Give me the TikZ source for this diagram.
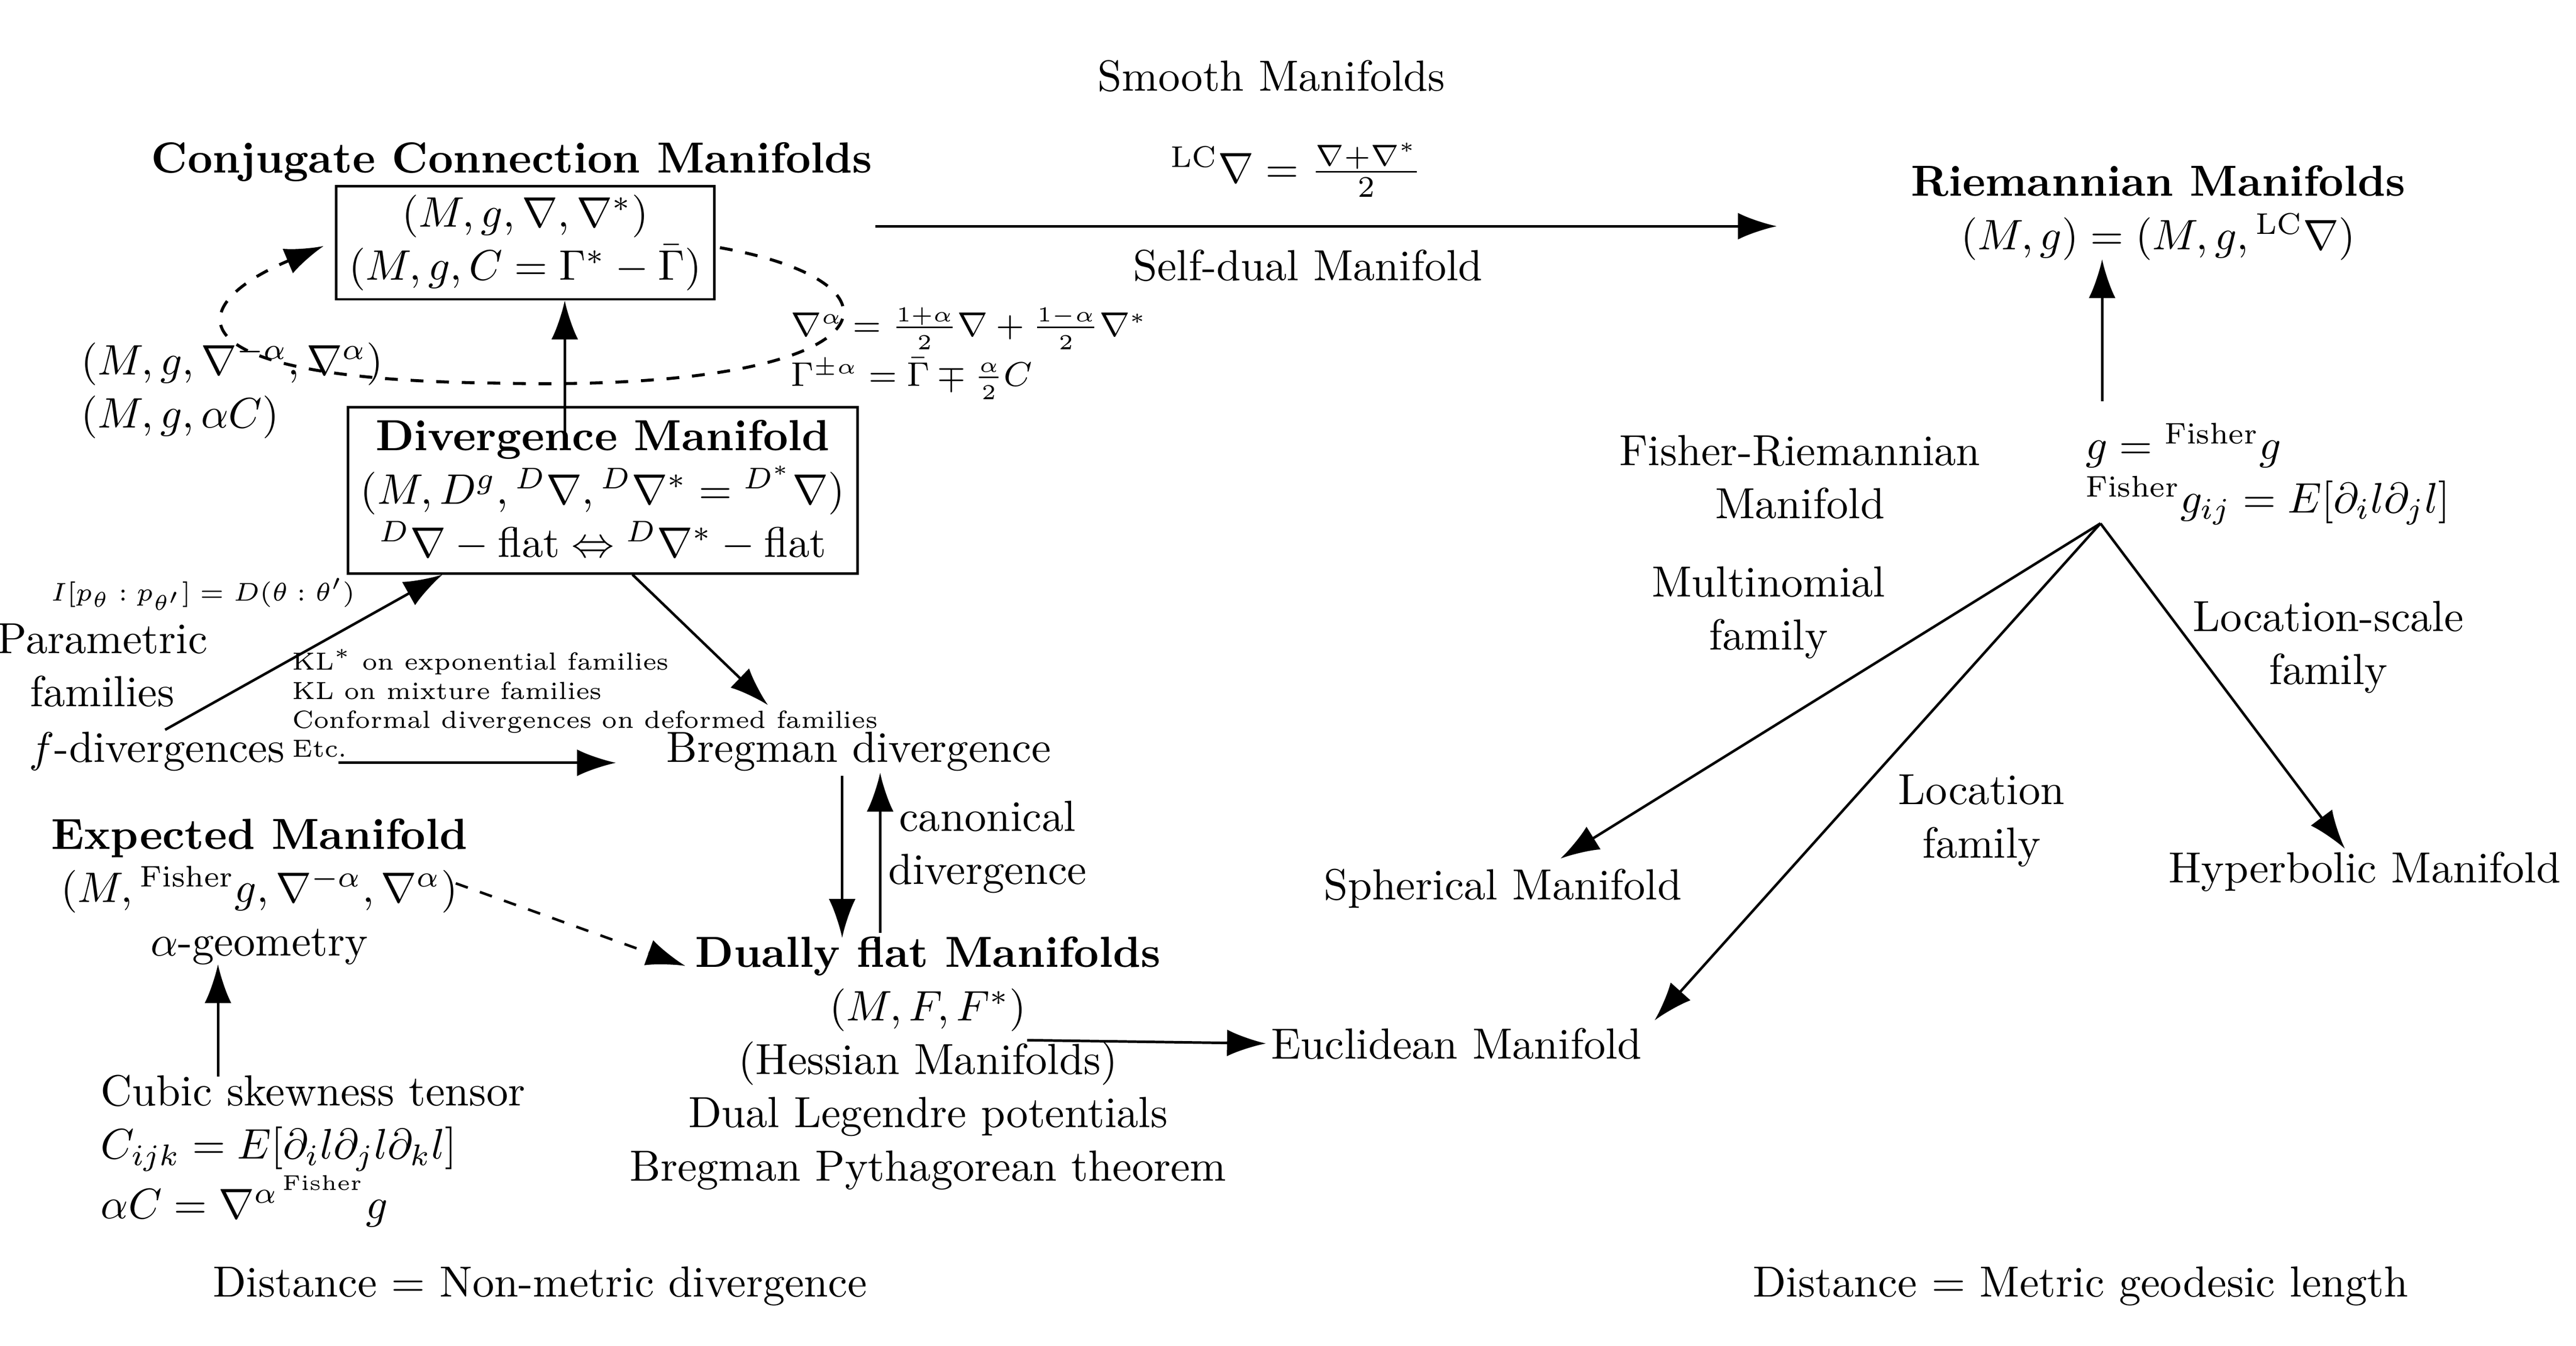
\documentclass[tikz,border=0pt]{standalone}
\usepackage{amsmath,amssymb}
\usetikzlibrary{arrows.meta}
\begin{document}
\begin{tikzpicture}[x=0.0136cm,y=-0.0136cm,
  every node/.style={inner sep=1pt,font=\fontsize{10.2}{12.5}\selectfont},
  arr/.style={-{Latex[length=3.2mm,width=2.2mm]},line width=0.6pt},
  box/.style={draw,line width=0.6pt,align=center,inner sep=2pt},
  lab/.style={align=center},
  tit/.style={font=\fontsize{10.2}{12.5}\selectfont\bfseries},
  sm/.style={font=\fontsize{7.8}{8.8}\selectfont,align=left},
  tn/.style={font=\fontsize{5.8}{6.8}\selectfont,align=left}]
\useasboundingbox (0,0) rectangle (1560,815);
\node (smooth) at (770,46) {Smooth Manifolds};
% conjugate
\node[tit] (conjt) at (310,98) {Conjugate Connection Manifolds};
\node[box,inner xsep=3pt] (conj) at (318,147) {$(M,g,\nabla,\nabla^*)$\\$(M,g,C=\Gamma^*-\bar\Gamma)$};
\coordinate (e1) at (436,150);
\coordinate (e2) at (300,232);
\coordinate (e3) at (196,149);
\draw[arr,dashed,line width=0.7pt] (e1) .. controls (560,172) and (540,238) .. (e2) .. controls (100,230) and (110,185) .. (e3);
\node[lab,align=left,anchor=west] (alpha) at (46,236) {$(M,g,\nabla^{-\alpha},\nabla^{\alpha})$\\$(M,g,\alpha C)$};
\node[sm,anchor=west] (form) at (476,214) {$\nabla^{\alpha}=\frac{1+\alpha}{2}\nabla+\frac{1-\alpha}{2}\nabla^*$\\[1pt]$\Gamma^{\pm\alpha}=\bar\Gamma\mp\frac{\alpha}{2}C$};
% divergence
\node[box,inner sep=3pt] (div) at (365,297) {\textbf{Divergence Manifold}\\$(M,D^g,{}^D\nabla,{}^D\nabla^*={}^{D^*}\nabla)$\\${}^D\nabla-\mathrm{flat}\Leftrightarrow{}^D\nabla^*-\mathrm{flat}$};
\coordinate (dt) at (342,268);
\draw[arr] (dt) -- (conj.south -| dt);
\node[tn] (ip) at (123,360) {$I[p_\theta:p_{\theta'}]=D(\theta:\theta')$};
\node[lab] (param) at (62,403) {Parametric\\families};
\node (fdiv) at (95,455) {$f$-divergences};
\node[tn] (kl) at (174,426) [anchor=west] {KL$^*$ on exponential families\\KL on mixture families\\Conformal divergences on deformed families\\Etc.};
\coordinate (f1) at (100,442);
\coordinate (d1) at (268,348);
\draw[arr] (f1) -- (d1);
\node (breg) at (520,455) {Bregman divergence};
\coordinate (f2) at (205,462);
\draw[arr] (f2) -- (373,462);
\coordinate (d2) at (383,348);
\draw[arr] (d2) -- (465,427);
% dually flat
\node[lab] (dfl) at (562,644) {\textbf{Dually flat Manifolds}\\$(M,F,F^*)$\\(Hessian Manifolds)\\Dual Legendre potentials\\Bregman Pythagorean theorem};
\coordinate (b1) at (510,470);
\coordinate (b2) at (510,568);
\coordinate (b3) at (533,565);
\coordinate (b4) at (533,468);
\draw[arr] (b1) -- (b2);
\draw[arr] (b3) -- (b4);
\node[lab] (canon) at (598,513) {canonical\\divergence};
% expected
\node[lab] (exp) at (157,540) {\textbf{Expected Manifold}\\$(M,{}^{\mathrm{Fisher}}g,\nabla^{-\alpha},\nabla^{\alpha})$\\$\alpha$-geometry};
\coordinate (x1) at (276,535);
\coordinate (x2) at (415,585);
\draw[arr,dashed] (x1) -- (x2);
\node[lab,align=left,anchor=west] (cubic) at (58,697) {Cubic skewness tensor\\$C_{ijk}=E[\partial_i l\partial_j l\partial_k l]$\\$\alpha C=\nabla^{\alpha\,{}^{\mathrm{Fisher}}}g$};
\coordinate (c1) at (132,652);
\draw[arr] (c1) -- (132,584);
% euclid
\node (eucl) at (882,632) {Euclidean Manifold};
\coordinate (h0) at (622,630);
\draw[arr] (h0) -- (eucl.west);
% top arrow
\coordinate (s1) at (530,137);
\coordinate (s2) at (1076,137);
\draw[arr] (s1) -- (s2);
\node (lc) at (785,103) {${}^{\mathrm{LC}}\nabla=\frac{\nabla+\nabla^*}{2}$};
\node (selfd) at (792,161) {Self-dual Manifold};
% riemann
\node[lab] (riem) at (1307,129) {\textbf{Riemannian Manifolds}\\$(M,g)=(M,g,{}^{\mathrm{LC}}\nabla)$};
\coordinate (r1) at (1273,243);
\draw[arr] (r1) -- (1273,157);
\node[lab,align=left,anchor=west] (fish) at (1260,287) {$g={}^{\mathrm{Fisher}}g$\\${}^{\mathrm{Fisher}}g_{ij}=E[\partial_i l\partial_j l]$};
\coordinate (hub) at (1272,317);
\node[lab] (fr) at (1090,289) {Fisher-Riemannian\\Manifold};
\node[lab] (mult) at (1071,371) {Multinomial\\family};
\node[lab] (ls) at (1410,392) {Location-scale\\family};
\node[lab] (loc) at (1200,497) {Location\\family};
\node (sph) at (910,538) {Spherical Manifold};
\node (hyp) at (1432,528) {Hyperbolic Manifold};
\coordinate (sp) at (945,520);
\coordinate (eu) at (1002,618);
\coordinate (hy) at (1420,514);
\draw[arr] (hub) -- (sp);
\draw[arr] (hub) -- (eu);
\draw[arr] (hub) -- (hy);
\node (dist1) at (327,779) {Distance = Non-metric divergence};
\node (dist2) at (1260,779) {Distance = Metric geodesic length};
\end{tikzpicture}
\end{document}
